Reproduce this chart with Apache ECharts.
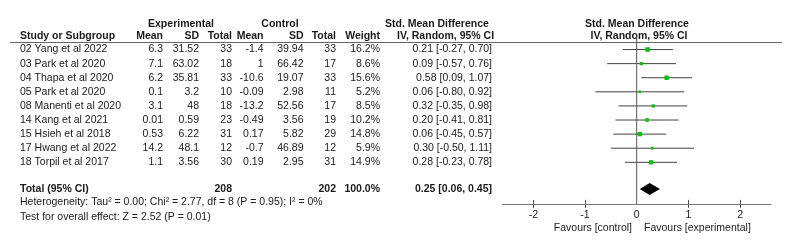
<!DOCTYPE html>
<html>
<head>
<meta charset="utf-8">
<script src="https://cdn.jsdelivr.net/npm/echarts@6/dist/echarts.min.js"></script>
<style>
  html, body { margin: 0; padding: 0; background: #fff; }
  #forest { width: 792px; height: 250px; }
</style>
</head>
<body>
<div id="forest"></div>
<script>
var studies = ['02 Yang et al 2022', '03 Park et al 2020', '04 Thapa et al 2020', '05 Park et al 2020',
    '08 Manenti et al 2020', '14 Kang et al 2021', '15 Hsieh et al 2018', '17 Hwang et al 2022', '18 Torpil et al 2017'];
var expMean = [6.3, 7.1, 6.2, 0.1, 3.1, 0.01, 0.53, 14.2, 1.1];
var expSD = [31.52, 63.02, 35.81, 3.2, 48, 0.59, 6.22, 48.1, 3.56];
var expN = [33, 18, 33, 10, 18, 23, 31, 12, 30];
var ctlMean = [-1.4, 1, -10.6, -0.09, -13.2, -0.49, 0.17, -0.7, 0.19];
var ctlSD = [39.94, 66.42, 19.07, 2.98, 52.56, 3.56, 5.82, 46.89, 2.95];
var ctlN = [33, 17, 33, 11, 17, 19, 29, 12, 31];
var weights = [16.2, 8.6, 15.6, 5.2, 8.5, 10.2, 14.8, 5.9, 14.9];
var smd = [0.21, 0.09, 0.58, 0.06, 0.32, 0.20, 0.06, 0.30, 0.28];
var ciLow = [-0.27, -0.57, 0.09, -0.80, -0.35, -0.41, -0.45, -0.50, -0.23];
var ciHigh = [0.70, 0.76, 1.07, 0.92, 0.98, 0.81, 0.57, 1.11, 0.78];
var total = {exp: 208, ctl: 202, weight: 100.0, est: 0.25, lo: 0.06, hi: 0.45};
var xTicks = [-2, -1, 0, 1, 2];
var heterogeneity = 'Heterogeneity: Tau² = 0.00; Chi² = 2.77, df = 8 (P = 0.95); I² = 0%';
var overall = 'Test for overall effect: Z = 2.52 (P = 0.01)';

var FONT = 'Liberation Sans, Arial, sans-serif';
var FS = 10.5;
var TXT = '#1a1a1a';
var TOTAL_ROW = 9.89;

var chart = echarts.init(document.getElementById('forest'), null, {renderer: 'canvas'});

var studyData = [];
for (var i = 0; i < studies.length; i++) {
    studyData.push([i, smd[i], ciLow[i], ciHigh[i], weights[i]]);
}

var gridBox = {left: 502.3, right: 20.9, top: 29.8, height: 174.1};

chart.setOption({
    animation: false,
    grid: [
        Object.assign({}, gridBox),
        Object.assign({}, gridBox)
    ],
    xAxis: [{
        type: 'value', gridIndex: 0, position: 'bottom', min: -2.6, max: 2.6,
        splitLine: {show: false},
        axisLine: {onZero: false, lineStyle: {color: '#777', width: 1}},
        axisTick: {show: true, length: 4, lineStyle: {color: '#555'}, customValues: [-2, -1, 1, 2]},
        axisLabel: {customValues: xTicks, color: TXT, fontSize: FS, fontFamily: FONT, margin: 6}
    }, {
        // same axis again, only to get the upper half of the crossing ticks
        type: 'value', gridIndex: 1, position: 'bottom', min: -2.6, max: 2.6,
        splitLine: {show: false},
        axisLine: {show: false, onZero: false},
        axisTick: {show: true, inside: true, length: 4, lineStyle: {color: '#555'}, customValues: [-2, -1, 1, 2]},
        axisLabel: {show: false}
    }],
    yAxis: [{
        type: 'value', gridIndex: 0, min: -1.4, max: 10.95, inverse: true, show: false
    }, {
        type: 'value', gridIndex: 1, min: -1.4, max: 10.95, inverse: true, show: false
    }],
    series: [{
        type: 'line',
        xAxisIndex: 0, yAxisIndex: 0,
        data: [[0, -1.1], [0, 10.95]],
        symbol: 'none',
        lineStyle: {color: '#555', width: 1},
        silent: true
    }, {
        type: 'custom',
        xAxisIndex: 0, yAxisIndex: 0,
        data: studyData,
        renderItem: function(params, api) {
            var row = api.value(0);
            var c = api.coord([api.value(1), row]);
            var a = api.coord([api.value(2), row]);
            var b = api.coord([api.value(3), row]);
            var s = Math.sqrt(api.value(4)) * 1.12;
            return {
                type: 'group',
                children: [{
                    type: 'line',
                    shape: {x1: a[0], y1: a[1], x2: b[0], y2: b[1]},
                    style: {stroke: '#444', lineWidth: 1}
                }, {
                    type: 'rect',
                    shape: {x: c[0] - s / 2, y: c[1] - s / 2, width: s, height: s},
                    style: {fill: '#00c800'}
                }]
            };
        }
    }, {
        type: 'custom',
        xAxisIndex: 0, yAxisIndex: 0,
        data: [[TOTAL_ROW, total.est, total.lo, total.hi]],
        renderItem: function(params, api) {
            var row = api.value(0);
            var c = api.coord([api.value(1), row]);
            var a = api.coord([api.value(2), row]);
            var b = api.coord([api.value(3), row]);
            return {
                type: 'polygon',
                shape: {points: [[a[0], c[1]], [c[0], c[1] - 6], [b[0], c[1]], [c[0], c[1] + 6]]},
                style: {fill: '#000'}
            };
        }
    }]
});

function txt(x, y, s, align, bold) {
    return {
        type: 'text', x: x, y: y, silent: true,
        style: {
            text: s, fill: TXT, font: (bold ? 'bold ' : '') + FS + 'px ' + FONT,
            textAlign: align || 'left', textVerticalAlign: 'middle'
        }
    };
}
function ci(e, l, h) {
    return e.toFixed(2) + ' [' + l.toFixed(2) + ', ' + h.toFixed(2) + ']';
}

var cols = {name: 20, em: 163, esd: 199, en: 232, cm: 263.5, csd: 303.5, cn: 336, w: 380, ci: 492};
var g = [];
// header
g.push(txt(181, 24, 'Experimental', 'center', true));
g.push(txt(280, 24, 'Control', 'center', true));
g.push(txt(385, 24, 'Std. Mean Difference', 'left', true));
g.push(txt(637, 24, 'Std. Mean Difference', 'center', true));
g.push(txt(cols.name, 36.5, 'Study or Subgroup', 'left', true));
g.push(txt(cols.em, 36.5, 'Mean', 'right', true));
g.push(txt(cols.esd, 36.5, 'SD', 'right', true));
g.push(txt(cols.en, 36.5, 'Total', 'right', true));
g.push(txt(cols.cm, 36.5, 'Mean', 'right', true));
g.push(txt(cols.csd, 36.5, 'SD', 'right', true));
g.push(txt(cols.cn, 36.5, 'Total', 'right', true));
g.push(txt(cols.w, 36.5, 'Weight', 'right', true));
g.push(txt(397, 36.5, 'IV, Random, 95% CI', 'left', true));
g.push(txt(639, 36.5, 'IV, Random, 95% CI', 'center', true));
g.push({type: 'line', silent: true, shape: {x1: 10, y1: 42.5, x2: 782, y2: 42.5},
    style: {stroke: '#666', lineWidth: 1}});

for (var k = 0; k < studies.length; k++) {
    var y = chart.convertToPixel({gridIndex: 0}, [0, k])[1];
    g.push(txt(cols.name, y, studies[k], 'left'));
    g.push(txt(cols.em, y, String(expMean[k]), 'right'));
    g.push(txt(cols.esd, y, String(expSD[k]), 'right'));
    g.push(txt(cols.en, y, String(expN[k]), 'right'));
    g.push(txt(cols.cm, y, String(ctlMean[k]), 'right'));
    g.push(txt(cols.csd, y, String(ctlSD[k]), 'right'));
    g.push(txt(cols.cn, y, String(ctlN[k]), 'right'));
    g.push(txt(cols.w, y, weights[k].toFixed(1) + '%', 'right'));
    g.push(txt(cols.ci, y, ci(smd[k], ciLow[k], ciHigh[k]), 'right'));
}

var ty = chart.convertToPixel({gridIndex: 0}, [0, TOTAL_ROW])[1];
g.push(txt(cols.name, ty, 'Total (95% CI)', 'left', true));
g.push(txt(cols.en, ty, String(total.exp), 'right', true));
g.push(txt(cols.cn, ty, String(total.ctl), 'right', true));
g.push(txt(cols.w, ty, total.weight.toFixed(1) + '%', 'right', true));
g.push(txt(cols.ci, ty, ci(total.est, total.lo, total.hi), 'right', true));
g.push(txt(cols.name, 202.5, heterogeneity, 'left'));
g.push(txt(cols.name, 216.7, overall, 'left'));

g.push(txt(632, 228.5, 'Favours [control]', 'right'));
g.push(txt(644, 228.5, 'Favours [experimental]', 'left'));

chart.setOption({graphic: g});
</script>
</body>
</html>
